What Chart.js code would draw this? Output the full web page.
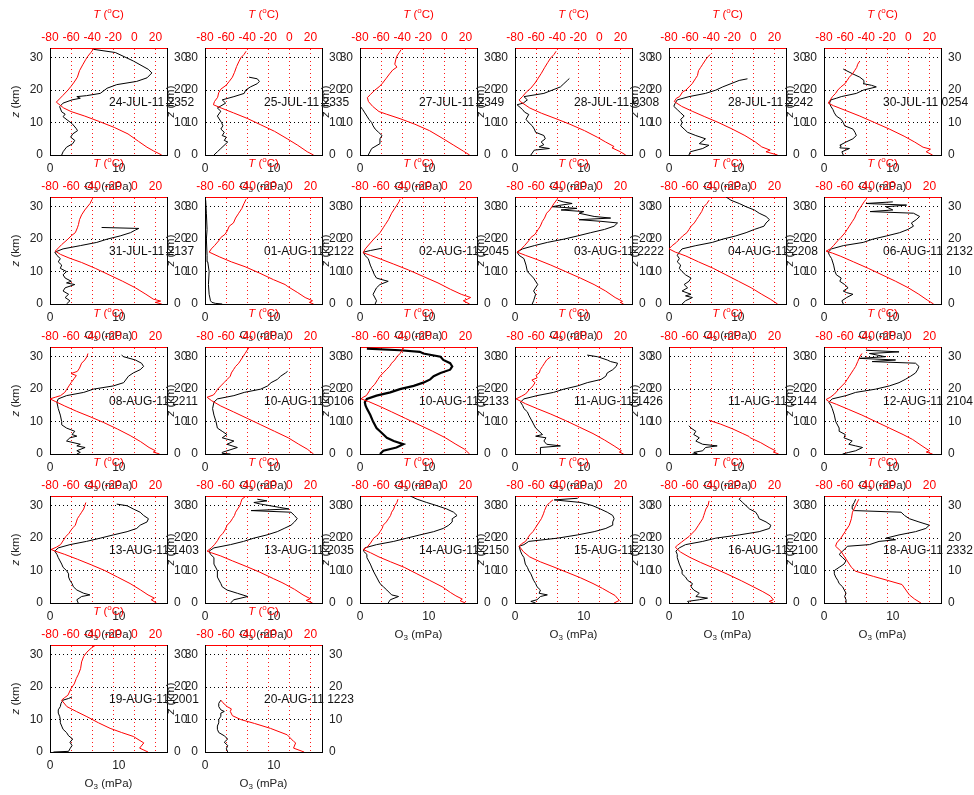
<!DOCTYPE html>
<html>
<head>
<meta charset="utf-8">
<script src="https://cdn.jsdelivr.net/npm/chart.js@4.4.1/dist/chart.umd.min.js"></script>
<style>
html, body { margin:0; padding:0; background:#fff; overflow:hidden; width:974px; height:795px; position:relative; }
canvas { position:absolute; }
</style>
</head>
<body>
<script>
// launch stamps, one per panel
const stamps = [
"24-JUL-11 2352","25-JUL-11 2335","27-JUL-11 2349","28-JUL-11 0308","28-JUL-11 2242","30-JUL-11 0254",
"31-JUL-11 2137","01-AUG-11 2122","02-AUG-11 2045","03-AUG-11 2222","04-AUG-11 2208","06-AUG-11 2132",
"08-AUG-11 2211","10-AUG-11 0106","10-AUG-11 2133","11-AUG-11 1426","11-AUG-11 2144","12-AUG-11 2104",
"13-AUG-11 1403","13-AUG-11 2035","14-AUG-11 2150","15-AUG-11 2130","16-AUG-11 2100","18-AUG-11 2332",
"19-AUG-11 2001","20-AUG-11 1223"
];

const zTicks = [0, 10, 20, 30];
const o3Ticks = [0, 10];
const tTicks = [-80, -60, -40, -20, 0, 20];

// ozone partial pressure profiles, [O3 mPa, z km]
const o3Profiles = [
[[1.7,0],[1.9,1],[2.4,2.4],[3.3,3.5],[3.6,4.5],[3.0,5.5],[3.3,6.5],[4.0,7.5],[3.8,8.2],[3.2,9.7],[2.5,10.8],[1.9,11.8],[2.2,12.6],[1.7,13.3],[1.4,14.9],[1.9,16],[3.2,17],[4.4,17.5],[3.9,18],[5.3,18.3],[7.3,19],[8.3,20.6],[9.7,21.7],[12.6,22.7],[14.1,23.8],[14.8,25.3],[14.3,26.4],[12.1,29],[9.5,31.6],[6.3,32.6]],
[[1.3,0],[1.8,1],[2.3,2],[3.3,4],[2.8,4.5],[3.1,5.5],[2.5,6],[2.8,7],[2.3,8],[2.6,9],[2.4,10],[1.8,12],[2.3,13.5],[1.8,14.5],[2.2,15],[3.0,16],[2.5,17],[4.2,18],[5.7,19],[5.9,20],[6.6,21],[7.6,22],[7.9,22.7],[7.6,23.5],[6.4,24]],
[[1.2,0],[1.7,2],[2.9,3.5],[2.9,5],[3.2,6],[2.7,7],[2.2,8],[1.9,9],[1.7,10],[1.3,11],[1.0,12],[0.7,13],[0.4,14],[0,15.1]],
[[2.3,0],[2.8,1.5],[5.0,2],[3.5,2.5],[4.2,3.2],[3.8,4],[4.4,5],[4.2,6],[3.0,7],[2.8,8],[2.5,9],[2.0,10],[1.6,11],[2.0,12.5],[1.4,13.2],[1.1,14],[0.3,15.5],[1.2,16],[1.8,17],[1.3,18],[4.2,19],[5.4,20],[6.6,21],[7.1,22],[7.6,23],[7.9,23.6]],
[[2.9,0],[3.1,1],[4.9,2],[5.8,3],[4.4,3.5],[5.3,5],[3.9,6],[2.7,7],[2.2,8],[1.7,9],[1.9,10],[1.7,11],[2.2,12],[1.7,13],[1.2,14],[0.7,15],[0.9,16],[1.2,17],[2.9,18],[5.3,19],[6.8,20],[7.8,21],[9.0,22],[10.2,23],[11.4,23.5]],
[[2.8,0],[2.6,1],[3.7,2],[2.3,2.2],[2.5,2.8],[2.3,3],[3.2,4],[4.2,5],[4.7,6],[4.5,7],[4.2,8],[3.0,9],[2.8,10],[2.5,11],[1.8,12],[1.5,13],[1.3,14],[1.0,15],[0.8,16],[1.0,17],[1.8,17.5],[2.5,18],[4.7,19],[5.7,20],[7.6,21],[6.9,21.5],[5.7,22],[5.8,23],[5.2,24],[4.2,25],[2.8,26.5]],
[[2.4,0],[2.9,1],[2.2,2],[2.7,3],[1.9,4],[2.2,5],[3.6,6],[2.4,6.5],[3.1,7],[2.2,8],[1.9,9],[2.4,10],[1.5,11],[1.7,12],[1.2,13],[1.5,14],[1.0,15],[0.7,16],[1.9,17],[4.4,18],[6.8,19],[8.3,20],[10.2,21],[11.7,22],[12.4,22.8],[12.9,23.3],[7.5,23.6]],
[[2.5,0],[1.5,0.2],[1.0,0.5],[0.8,1],[0.6,3],[0.5,6],[0.6,10],[0.4,13],[0.3,15],[0.2,20],[0.3,23],[0.2,28],[0.1,32]],
[[2.2,0],[2.4,1],[1.9,3],[2.4,5],[2.9,6],[4.1,7],[3.2,7.5],[2.4,8],[2.1,9],[1.9,10],[1.7,11],[1.5,12],[1.2,14],[0.7,15],[0.5,16],[1.5,16.5],[3.2,17.2]],
[[2.5,0],[2.7,1],[3.0,3],[2.7,4],[3.3,6],[2.7,8],[1.8,10],[1.6,12],[1.3,14],[0.6,15],[0.3,16],[1.1,17],[2.8,18],[4.7,19],[7.1,20],[9.1,21],[11,22],[13,23],[14.4,24],[14.9,25],[12.5,25.5],[9.3,26],[13.9,26.5],[11.5,27],[9.3,28],[10.0,28.5],[6.7,29],[9.0,29.5],[5.4,30],[6.7,30.5],[8.3,31],[7.0,31.5],[6.2,32]],
[[1.9,0],[2.4,1],[3.4,2],[2.4,2.5],[3.2,3],[1.9,4],[2.7,5],[2.2,6],[2.9,7],[3.2,8],[2.4,9],[1.9,10],[1.5,11],[1.7,12],[1.2,13],[1.5,14],[1.2,15],[1.5,16],[1.9,17],[3.9,18],[6.3,19],[7.8,20],[9.7,21],[11.2,22],[12.4,23],[13.1,23.5],[13.8,24],[14.1,25],[14.6,26],[14.1,27],[13.1,28],[12.4,29],[11.2,30],[10.2,31],[9.0,32],[8.3,33]],
[[2.8,0],[2.6,1],[3.3,2],[4.2,3],[3.3,3.5],[2.8,4],[3.5,5],[3.0,6],[2.3,7],[2.5,8],[1.8,9],[1.6,10],[1.4,12],[1.1,14],[0.8,15],[0.6,16],[1.1,17],[2.8,18],[5.7,19],[7.1,20],[9.1,21],[11,22],[12.2,23],[13,24],[12.7,25],[13.4,26],[13.9,27],[13,28],[6.7,28.5],[10,29],[9,30],[12,30.5],[6.1,31],[10,31.5]],
[[3.9,0],[4.4,0.5],[3.9,1],[5.1,2],[3.9,2.5],[4.4,3],[2.4,4],[2.9,5],[3.9,5.5],[3.2,6],[3.6,7],[2.4,8],[1.7,9],[1.7,10],[1.5,12],[1.2,14],[1.0,16],[1.2,17],[2.4,18],[4.9,19],[6.3,20],[9.2,21],[10.7,22],[11.4,24],[12.1,25],[13.1,26],[13.6,27],[13.3,28],[12.4,29],[10.7,30],[10.4,30.5]],
[[3.7,0],[2.5,0.2],[2.5,0.5],[4.7,2],[3.2,3],[4.2,4],[2.5,5],[3.2,6],[2.5,7],[1.8,8],[1.6,10],[1.3,12],[1.1,14],[1.3,16],[1.8,17],[4.2,18],[5.7,19],[8.1,20],[9.1,21],[9.6,22],[10.5,23],[11,24],[11.7,25],[12,25.5]],
[[2.9,0],[3.4,1],[5.3,2],[6.3,3],[4.9,4],[3.9,5],[3.4,6],[2.9,7],[2.4,8],[1.9,10],[1.5,12],[1.0,14],[0.8,15],[0.7,16],[1.0,17],[2.4,18],[4.4,19],[5.8,20],[7.8,21],[9.2,22],[10.2,23],[10.7,24],[11.7,25],[13.1,26],[13.4,27],[13.1,28],[12.1,29],[11.7,30],[9.2,31],[8.7,31.5],[5.8,32],[1.0,32.5]],
[[3.7,0],[3.7,1],[3.7,2],[6.6,2.5],[4.6,3],[4.2,4],[4.5,5],[3.0,5.5],[4.0,6],[3.0,8],[2.5,10],[2.0,12],[1.8,13],[1.3,14],[1.1,15],[0.8,16],[1.3,17],[3.2,18],[5.6,19],[7.1,20],[9.1,21],[10.5,22],[12.5,23],[13.2,24],[13.4,25],[14.2,26],[14.7,27],[14.9,28],[13.9,28.5],[13.4,29],[12,30],[10.5,30.5]],
[[3.4,0],[4.1,0.2],[3.6,0.5],[4.9,1],[5.3,2],[7.0,2.5],[4.9,3],[3.9,4],[4.4,5],[3.6,6],[3.9,7],[3.2,8],[2.9,8.7]],
[[2.7,0],[3.6,0.5],[4.6,1],[5.6,2],[4.6,2.5],[3.6,3],[4.1,4],[2.9,5],[3.1,6],[2.2,7],[2.2,8],[1.7,10],[1.5,12],[1.2,14],[1.0,15],[0.7,16],[1.2,17],[3.2,18],[4.6,19],[7.5,20],[9.5,21],[10.9,22],[11.8,23],[12.6,24],[13.3,25],[13.6,26],[13.8,27],[13.3,28],[7.0,28.5],[10.4,29],[5.1,29.5],[8.9,30],[6.6,31],[10.9,31.5],[6.1,32]],
[[4.1,0],[3.9,1],[4.6,2],[5.8,2.5],[4.9,3],[3.9,4],[3.4,5],[3.2,6],[2.9,7],[2.7,8],[2.7,9],[2.4,10],[1.9,11],[1.7,12],[1.2,14],[1.0,15],[0.7,16],[1.2,17],[2.9,18],[5.3,19],[7.3,20],[9.2,21],[11.2,22],[12.6,23],[13.1,24],[14.1,25],[14.3,26],[13.6,27],[13.1,28],[12.1,29],[11.2,30],[9.7,30.5]],
[[3.7,0],[4.2,1],[6.2,2],[4.7,3],[3.2,4],[2.5,5],[2.3,6],[1.8,8],[1.8,10],[1.3,12],[1.3,14],[0.8,15],[0.6,16],[1.3,17],[3.7,18],[5.6,19],[7.1,20],[9.0,21],[10.5,22],[11.5,23],[12.5,24],[13,25],[13.4,26],[13,27],[12.5,28],[6.7,28.5],[12.2,29],[10.8,29.5],[8.1,30.5],[7.1,31],[9.0,31.5],[7.6,32]],
[[4.1,0],[4.4,1],[5.6,2],[4.6,2.5],[3.9,4],[3.4,5],[2.9,6],[2.4,8],[1.9,10],[1.5,12],[1.0,14],[1.0,15],[0.5,16],[0.7,17],[2.4,18],[4.9,19],[6.8,20],[8.7,21],[10.7,22],[12.1,23],[12.9,24],[13.4,25],[13.4,26],[14.1,27],[13.6,28],[12.6,29],[11.2,30],[9.7,31],[8.3,32],[7.3,33]],
[[3.0,0],[2.3,0.5],[3.2,1],[3.7,2],[4.7,2.5],[3.5,3],[3.7,4],[3.2,5],[3.0,6],[2.7,7],[2.5,8],[2.3,9],[2.0,10],[1.8,11],[1.5,12],[1.3,14],[1.0,15],[0.8,16],[0.6,17.5],[1.3,18],[2.0,19],[6.2,20],[9.1,21],[11.5,22],[13.2,23],[14.2,24],[14.2,25],[14.4,26],[14.2,27],[13.4,28],[12.4,29],[11.3,30],[9.6,31],[5.7,31.8],[9.1,32.3]],
[[2.9,0],[2.7,0.5],[4.4,1],[5.6,1.5],[3.9,2],[4.4,3],[3.6,4],[3.2,5],[3.4,6],[2.7,7],[2.4,8],[1.9,9],[1.9,10],[1.5,12],[1.2,14],[1.2,15],[1.0,16],[1.5,17],[2.4,18],[4.9,19],[6.8,20],[10.2,21],[13.1,22],[14.6,23],[14.8,24],[14.1,25],[13.1,26],[12.9,27],[12.6,28],[11.7,29],[11.2,30],[10.7,31],[10.2,32],[10.4,32.5]],
[[3.2,0],[3.2,1],[3.0,2],[3.2,3],[2.7,5],[2.2,6],[2.0,7],[1.7,8],[1.5,9],[1.5,10],[2.2,11],[2.9,12],[3.2,13],[2.7,14],[2.2,15],[2.7,16],[3.2,17],[3.4,17.5],[6.6,18],[8.0,19],[10.4,19.5],[9.0,20],[10.9,21],[13.3,22],[14.8,23],[15.3,24],[13.8,25],[12.4,26],[11.7,27],[11.2,28],[4.4,28.5],[4.1,29],[4.1,30],[4.4,31],[4.6,32]],
[[0.5,0],[2.7,0.2],[2.9,1],[3.2,2],[2.9,3],[3.3,4],[2.7,5],[2.4,6],[1.9,7],[1.7,8],[1.5,9],[1.5,10],[1.4,11],[1.2,12],[1.2,13],[1.5,14],[1.6,15],[1.9,16],[2.7,16.5],[3.2,17]],
[[3.3,0],[3.1,1],[3.3,2],[2.8,3],[3.3,4],[2.8,5],[2.0,6],[1.8,7],[1.8,8],[2.0,9],[2.0,10],[2.3,11],[2.3,12],[2.8,12.5],[2.3,13],[2.0,14],[2.0,15],[2.3,16]]
];

// temperature profiles, [T degC, z km]
const tProfiles = [
[[26,0],[18,1.3],[12,2.4],[4,4.2],[-6,6.5],[-19,8.5],[-33,10.3],[-47,12],[-60,13.4],[-67,14.5],[-74,16.3],[-71,17.3],[-68,18.3],[-63,20],[-60,21.2],[-57,22.5],[-54,24],[-52,26],[-49,27.8],[-46,29.5],[-44,30.5],[-41,31.7],[-39,32.6]],
[[23,0],[17,1],[8,3],[-2,5],[-14,7.3],[-27,9.3],[-40,11.3],[-53,13],[-64,14.4],[-72,15.5],[-71,16.5],[-68,17.8],[-67,19.2],[-65,20.3],[-60,21.5],[-57,22.7],[-54,24],[-52,25.5],[-50,27.3],[-48,28.7],[-46,30],[-43,31],[-41,32]],
[[24,0],[18,1.2],[9,3],[-1,5],[-14,7.5],[-28,9.5],[-42,11.2],[-55,12.6],[-62,13.4],[-68,15],[-72,16.5],[-73,17.7],[-70,18.7],[-66,20],[-62,21],[-59,22],[-55,23.7],[-52,25],[-49,26.2],[-45,27.1],[-47,28],[-46,29.5],[-45,30.5],[-43,31.5],[-41,32.5]],
[[25,0],[20,1],[12,2.2],[14,2.6],[6,4],[-2,5.5],[-14,7.5],[-28,9.5],[-42,11.3],[-55,12.9],[-66,14.5],[-75,16.5],[-76,17],[-73,18],[-69,19.5],[-65,20.6],[-61,22.2],[-58,23.7],[-55,25.2],[-52,26.9],[-49,28.5],[-46,30],[-43,31],[-41,32]],
[[23,0],[12,1],[16,1.5],[8,2.5],[2,4],[-8,6],[-20,8],[-33,10],[-46,11.8],[-58,13.5],[-68,15],[-75,16.5],[-73,17.5],[-70,18],[-67,19.5],[-64,20],[-61,21],[-58,22],[-55,23.5],[-53,24.5],[-52,26],[-50,27],[-48,28],[-45,29.5],[-43,30.3],[-41,31]],
[[23,0],[17,1],[21,1.8],[14,2.4],[6,4],[-4,5.8],[-18,8],[-32,10],[-46,12],[-60,13.8],[-71,15.2],[-76,16],[-74,17],[-72,18],[-69,19],[-67,20],[-64,21],[-60,22],[-58,23],[-56,24],[-53,25],[-51,26],[-49,27],[-48,28],[-46,29]],
[[26,0],[20,0.5],[25,0.9],[18,1.5],[11,3],[1,5],[-11,7],[-24,9],[-37,11],[-50,12.8],[-62,14.2],[-70,15.3],[-75,16.3],[-72,17.3],[-69,18.3],[-63,20],[-60,21],[-56,22],[-54,23.5],[-53,24.5],[-52,26],[-50,27.5],[-47,29],[-44,30.2],[-42,31],[-40,32.3]],
[[23,0],[19,0.5],[22,1],[15,2],[8,3.5],[-2,5.5],[-4,6],[-15,7.5],[-28,9.5],[-42,11.5],[-55,13],[-66,14.5],[-76,16],[-74,17],[-71,18],[-67,19.5],[-65,20.5],[-61,21.5],[-59,22.5],[-57,24],[-53,25],[-51,26.5],[-48,28],[-45,29.5],[-43,31],[-41,32.3]],
[[24,0],[18,1],[22,1.5],[25,2],[16,3],[6,4.5],[-6,6.5],[-20,8.5],[-34,10.5],[-48,12.3],[-60,13.8],[-70,15],[-77,15.8],[-75,17],[-71,18.5],[-67,20],[-64,21],[-61,22],[-58,23.5],[-56,24.5],[-53,26],[-50,28],[-47,29.5],[-45,30.5],[-43,31.5],[-42,32.3]],
[[23,0],[20,0.5],[22,0.8],[15,2],[6,4],[-5,6],[-18,8],[-32,10],[-46,12],[-59,13.7],[-70,15],[-78,16],[-74,17],[-71,18],[-67,19.5],[-65,20.5],[-61,21.5],[-58,23],[-56,24],[-54,25.5],[-52,26.5],[-50,28],[-47,29],[-45,30],[-43,31],[-40,32.3]],
[[23,0],[16,1.5],[8,3],[-2,5],[-14,7],[-26,9],[-38,11],[-52,13],[-64,14.8],[-74,16],[-80,17],[-77,18],[-73,19],[-70,20],[-67,21],[-63,22],[-61,23],[-59,24],[-56,25],[-54,26],[-52,27],[-49,28.5],[-47,30],[-44,31],[-42,32]],
[[24,0],[18,1.2],[10,3],[0,5],[-12,7],[-25,9],[-38,11],[-52,13],[-64,14.7],[-72,15.7],[-78,16.3],[-74,17],[-71,18],[-67,19.5],[-64,20.5],[-60,22],[-58,23],[-56,24],[-53,25.5],[-51,26.5],[-49,28],[-46,29.5],[-44,30.5],[-42,31.5],[-40,32.3]],
[[24,0],[18,0.6],[20,1],[14,2],[6,3.8],[-4,5.7],[-16,7.7],[-29,9.7],[-42,11.5],[-55,13.2],[-66,14.8],[-75,16.2],[-80,17],[-75,17.5],[-70,18],[-66,19],[-64,20],[-62,21],[-60,22],[-57,23.3],[-55,24.2],[-60,24.8],[-54,25.5],[-52,26.5],[-50,28],[-47,29],[-45,30],[-44,31]],
[[23,0],[17,1.5],[9,3],[-1,5],[-14,7],[-27,9],[-40,11],[-53,13],[-65,14.8],[-74,16.5],[-78,17.5],[-72,18.2],[-70,19],[-68,20],[-65,21],[-62,22],[-59,23],[-56,24],[-55,25],[-53,26],[-51,27],[-48,28],[-46,29],[-44,30],[-42,31],[-38,33]],
[[24,0],[19,1.5],[11,3],[1,5],[-11,7],[-24,9],[-37,11],[-50,13],[-62,14.8],[-72,16.2],[-79,17],[-77,17.5],[-74,18],[-71,19.5],[-69,20.5],[-66,21.5],[-63,23],[-61,24],[-58,25],[-55,26],[-52,27],[-50,28],[-47,29],[-45,30],[-42,31],[-40,32],[-38,33]],
[[23,0],[19,0.6],[21,1],[14,2.5],[5,4.3],[-6,6.3],[-19,8.3],[-32,10.3],[-46,12.3],[-59,14],[-70,15.5],[-79,17],[-74,17.8],[-70,18.5],[-66,20],[-63,21],[-61,22],[-64,22.8],[-59,23.5],[-60,24.3],[-57,25],[-56,26],[-54,27],[-52,28],[-50,29],[-46,30]],
[[24,0],[19,0.6],[21,1],[15,2],[7,3.5],[-3,5],[-4,5.4],[-10,6.3],[-20,7.8],[-31,9.2],[-42,10.4]],
[[23,0],[17,0.6],[20,1],[13,2.5],[4,4.5],[-5,6],[-18,8],[-31,10],[-44,12],[-57,13.8],[-68,15.3],[-76,16.3],[-78,16.8],[-74,17.5],[-70,18.5],[-66,20],[-63,21],[-60,22],[-58,23],[-56,24],[-54,25],[-52,26],[-50,27],[-48,28.5],[-46,30],[-44,31]],
[[21,0],[16,1],[19,1.5],[13,2.5],[6,4],[-4,6],[-16,8],[-28,10],[-41,11.8],[-54,13.5],[-66,15],[-75,16],[-79,16.5],[-74,17.2],[-70,18],[-67,19.5],[-65,20.5],[-62,21.5],[-60,22.5],[-58,23.3],[-56,24],[-55,25],[-54,26],[-52,27],[-50,28],[-48,29],[-47,30],[-46,31]],
[[22,0],[16,0.8],[20,1.3],[13,2.5],[5,4.2],[-4,5.8],[-7,6.3],[-15,7.5],[-28,9.5],[-41,11.3],[-54,13],[-65,14.5],[-74,15.5],[-78,16],[-74,17],[-71,18],[-68,19.3],[-66,20.5],[-63,21.5],[-61,22.5],[-59,24],[-56,25],[-54,26],[-52,27],[-51,28],[-49,29],[-47,30],[-46,31],[-45,32],[-41,33]],
[[20,0],[15,0.7],[17,1.2],[11,2.2],[6,3.2],[-2,5],[-14,7],[-26,9],[-38,11],[-51,12.7],[-62,14.2],[-70,15.5],[-77,16.5],[-73,17.3],[-70,18.5],[-68,19.5],[-67,20],[-63,21],[-61,22],[-59,23],[-58,24],[-55,25],[-53,26],[-51,27],[-50,28],[-48,29],[-47,30],[-45,31],[-44,32]],
[[14,0],[19,0.8],[17,1.5],[15,2.3],[10,3.2],[3,4.5],[-6,6],[-18,7.8],[-31,9.5],[-44,11.2],[-56,12.7],[-66,14.2],[-72,15.8],[-76,17.5],[-74,18.2],[-70,19],[-68,20],[-66,21],[-63,22],[-61,23],[-59,24],[-57,25],[-55,26],[-53,27.5],[-52,28.5],[-50,30],[-47,31],[-44,31.8]],
[[19,0],[15,0.5],[19,1],[16,2.2],[9,3.5],[0,5],[-11,6.8],[-24,8.8],[-37,10.7],[-50,12.5],[-61,14.2],[-69,15.7],[-74,17.2],[-72,17.8],[-68,18.8],[-64,19.8],[-61,20.5],[-58,21.5],[-55,22.5],[-52,24],[-50,25],[-48,26],[-47,27],[-46,28],[-45,29],[-43,30],[-42,31.5]],
[[12,0],[6,1.2],[1,2.5],[-6,5.7],[-20,7],[-33,8.2],[-50,9.8],[-54,11],[-56,12],[-60,14],[-64,16],[-69,17.5],[-68,18.5],[-64,20],[-60,22],[-56,24],[-54,26],[-53,28],[-50,30],[-47,32]],
[[13,0],[5,1.2],[9,2.8],[-1,4.8],[-12,6],[-23,7.3],[-34,9],[-45,10.9],[-55,12.5],[-64,14],[-69,16],[-66,16.8],[-63,17.5],[-60,19.6],[-57,21],[-55,22.7],[-53,24],[-51,25.7],[-50,27.8],[-48,29.5],[-45,30.8],[-41,32],[-37,32.9]],
[[14,0],[4,1.2],[6,2.8],[4,3.3],[-2,5.3],[-18,7.3],[-33,8.8],[-46,10],[-54,11.2],[-56,12.5],[-55,13.3],[-59,14],[-63,15.2],[-65,16]]
];

const FONT = '"Liberation Sans", Arial, Helvetica, sans-serif';
const INK = '#222';
const RED = '#ff0000';
const clear = 'rgba(0,0,0,0)';

function fontOf(p) {
  return (p.it ? 'italic ' : '') + (p.sup || p.sub ? 8 : 11.5) + 'px ' + FONT;
}

// centred text with italic / super / subscript pieces
function richText(ctx, parts, x, y, color) {
  let w = 0;
  parts.forEach(p => { ctx.font = fontOf(p); w += ctx.measureText(p.t).width; });
  let cx = x - w / 2;
  ctx.fillStyle = color;
  ctx.textAlign = 'left';
  ctx.textBaseline = 'middle';
  parts.forEach(p => {
    ctx.font = fontOf(p);
    const dy = p.sup ? -4 : (p.sub ? 3 : 0);
    ctx.fillText(p.t, cx, y + dy);
    cx += ctx.measureText(p.t).width;
  });
}

const panelText = {
  id: 'panelText',
  afterDraw(chart, args, opts) {
    const ctx = chart.ctx;
    const a = chart.chartArea;
    const mid = (a.left + a.right) / 2;
    ctx.save();
    richText(ctx, [{t:'T', it:true}, {t:' ('}, {t:'o', sup:true}, {t:'C)'}], mid, a.top - 33, RED);
    richText(ctx, [{t:'O'}, {t:'3', sub:true}, {t:' (mPa)'}], mid, a.bottom + 32, INK);
    ctx.translate(a.left - 34, (a.top + a.bottom) / 2);
    ctx.rotate(-Math.PI / 2);
    richText(ctx, [{t:'z', it:true}, {t:' (km)'}], 0, 0, INK);
    ctx.restore();

    ctx.save();
    ctx.font = '12px ' + FONT;
    ctx.fillStyle = '#111';
    ctx.textAlign = 'left';
    ctx.textBaseline = 'middle';
    ctx.fillText(opts.stamp, a.left + 59, a.bottom - 52.5);
    ctx.restore();
  }
};

function fixTicks(list) {
  return s => { s.ticks = list.map(v => ({ value: v })); };
}

function tickCfg(color, pad) {
  return { color: color, padding: pad, autoSkip: false, maxRotation: 0, font: { size: 12 } };
}

const W = 207, H = 200;

stamps.forEach((stamp, i) => {
  const row = Math.floor(i / 6);
  const col = i % 6;
  const plotLeft = Math.round(50 + col * 154.87);
  const plotTop = Math.round(47.7 + row * 149.4);

  const cv = document.createElement('canvas');
  cv.width = W;
  cv.height = H;
  cv.style.left = (plotLeft - 50) + 'px';
  cv.style.top = (plotTop - 48) + 'px';
  document.body.appendChild(cv);

  new Chart(cv, {
    type: 'scatter',
    data: {
      datasets: [
        {
          data: tProfiles[i].map(p => ({ x: p[0], y: p[1] })),
          xAxisID: 'x2', yAxisID: 'y',
          borderColor: RED, borderWidth: 1,
          showLine: true, pointRadius: 0, fill: false
        },
        {
          data: o3Profiles[i].map(p => ({ x: p[0], y: p[1] })),
          xAxisID: 'x', yAxisID: 'y',
          borderColor: '#000', borderWidth: i === 14 ? 2.2 : 1,
          showLine: true, pointRadius: 0, fill: false
        }
      ]
    },
    options: {
      responsive: false,
      animation: false,
      devicePixelRatio: 1,
      events: [],
      layout: { padding: 0 },
      plugins: {
        legend: { display: false },
        tooltip: { enabled: false },
        panelText: { stamp: stamp }
      },
      scales: {
        x: {
          type: 'linear', position: 'bottom', min: 0, max: 17,
          afterBuildTicks: fixTicks(o3Ticks),
          afterFit: s => { s.height = 45; },
          grid: { display: false, drawTicks: false },
          border: { color: '#000' },
          ticks: tickCfg(INK, 6)
        },
        x2: {
          type: 'linear', position: 'top', min: -80, max: 31,
          afterBuildTicks: fixTicks(tTicks),
          afterFit: s => { s.height = 48; },
          grid: {
            drawTicks: false,
            color: c => (c.tick && c.tick.value === -80) ? clear : 'rgba(255,0,0,0.9)'
          },
          border: { color: RED, dash: [1, 3] },
          ticks: tickCfg(RED, 3)
        },
        y: {
          type: 'linear', position: 'left', min: 0, max: 33,
          afterBuildTicks: fixTicks(zTicks),
          afterFit: s => { s.width = 50; },
          grid: {
            drawTicks: false,
            color: c => (c.tick && c.tick.value === 0) ? clear : '#000'
          },
          border: { color: '#000', dash: [1, 3] },
          ticks: tickCfg(INK, 7)
        },
        y2: {
          type: 'linear', position: 'right', min: 0, max: 33,
          afterBuildTicks: fixTicks(zTicks),
          afterFit: s => { s.width = 40; },
          grid: { display: false, drawTicks: false },
          border: { color: '#000' },
          ticks: tickCfg(INK, 7)
        }
      }
    },
    plugins: [panelText]
  });
});
</script>
</body>
</html>
